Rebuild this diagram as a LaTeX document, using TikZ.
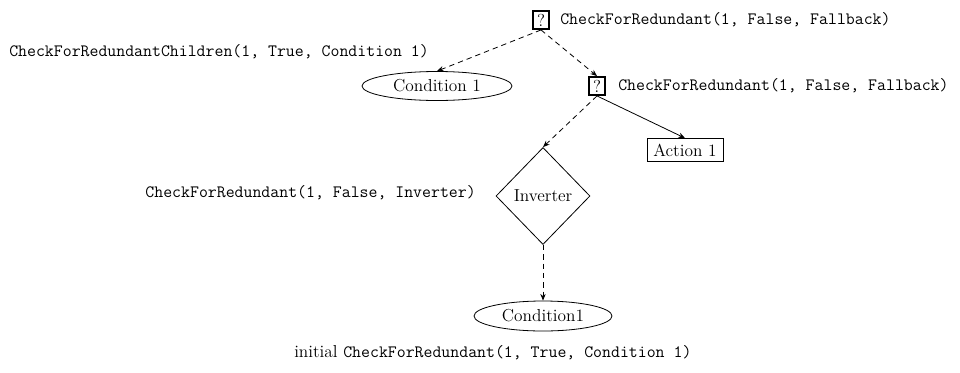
\documentclass[tikz,border=0pt]{standalone}
\usetikzlibrary{shapes.geometric,arrows.meta}
\begin{document}
\begin{tikzpicture}[x=0.75pt,y=-0.75pt,
  rm/.style={font=\fontsize{13}{15}\selectfont},
  code/.style={font=\fontsize{13}{15}\selectfont\ttfamily, inner sep=0pt},
  selbox/.style={draw, line width=1.4pt, minimum width=16*0.75pt, minimum height=18*0.75pt, inner sep=0pt, rm},
  cond/.style={draw, ellipse, line width=0.6pt, inner sep=0pt, rm},
  act/.style={draw, rectangle, line width=0.6pt, minimum width=76*0.75pt, minimum height=23*0.75pt, inner sep=0pt, rm},
  inv/.style={draw, diamond, line width=0.6pt, minimum width=94*0.75pt, minimum height=97*0.75pt, inner sep=0pt, aspect=1, rm},
  edge/.style={line width=0.6pt, -{Stealth[length=5pt,width=4pt]}},
  dedge/.style={edge, dash pattern=on 4pt off 3pt}
]
\useasboundingbox (0,0) rectangle (960,372);

% tree nodes
\node[selbox] (root) at (541,20) {?};
\node[cond, minimum width=150*0.75pt, minimum height=29*0.75pt] (c1) at (437,86) {Condition 1};
\node[selbox] (fb) at (597,86) {?};
\node[act] (a1) at (685,150) {Action 1};
\node[inv] (inv) at (543,196) {Inverter};
\node[cond, minimum width=138*0.75pt, minimum height=30*0.75pt] (c2) at (543,316) {Condition1};

% call annotations
\node[code, anchor=west] (lroot) at (560,20) {CheckForRedundant(1, False, Fallback)};
\node[code, anchor=west] (lc1) at (9,52) {CheckForRedundantChildren(1, True, Condition 1)};
\node[code, anchor=west] (lfb) at (618,86) {CheckForRedundant(1, False, Fallback)};
\node[code, anchor=east] (linv) at (476,193) {CheckForRedundant(1, False, Inverter)};
\node[anchor=west, inner sep=0pt] (linit) at (294,353) {\fontsize{13}{15}\selectfont initial \ttfamily CheckForRedundant(1, True, Condition 1)};

% connectors
\draw[dedge] (root.south) -- (c1.north);
\draw[dedge] (root.south) -- (fb.north);
\draw[dedge] (fb.south) -- (inv.north);
\draw[edge] (fb.south) -- (a1.north);
\draw[dedge] (inv.south) -- (c2.north);
\end{tikzpicture}
\end{document}
